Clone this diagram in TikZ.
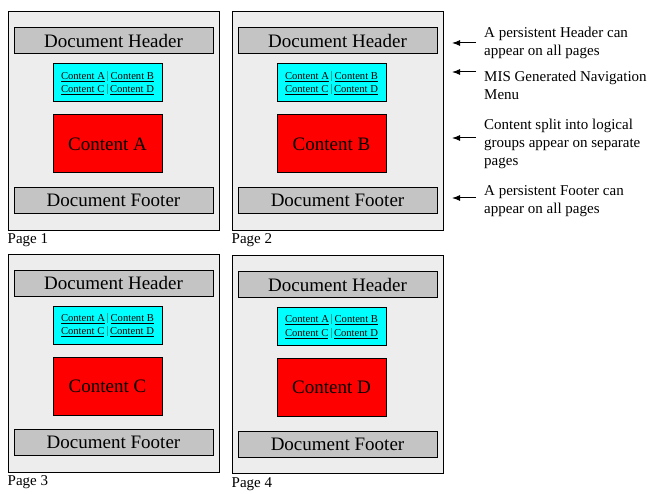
\documentclass[tikz,border=0pt]{standalone}
\usepackage{fontspec}
\setmainfont{Liberation Serif}
\usetikzlibrary{arrows.meta,calc}
\definecolor{pagebackground}{HTML}{EDEDED}
\definecolor{pageborder}{HTML}{000000}
\definecolor{bandfill}{HTML}{C4C4C4}
\definecolor{menufill}{HTML}{00FFFF}
\definecolor{menubar}{HTML}{1FA898}
\definecolor{contentfill}{HTML}{FF0000}
\definecolor{notetext}{HTML}{000000}
\definecolor{notearrow}{HTML}{000000}
\newcommand{\menulinks}{%
  \underline{Content A}\hspace{2.4pt}{\color{menubar}\rule[-1.5pt]{0.9pt}{10pt}}\hspace{2.4pt}\underline{Content B}\\
  \underline{Content C}\hspace{2.4pt}{\color{menubar}\rule[-1.5pt]{0.9pt}{10pt}}\hspace{2.4pt}\underline{Content D}}
\tikzset{
  site page/.style={
    rectangle, draw=pageborder, fill=pagebackground,
    line width=1pt, inner sep=0pt,
    minimum width=211pt, minimum height=218pt
  },
  site band/.style={
    rectangle, draw=pageborder, fill=bandfill,
    line width=1pt, inner sep=0pt,
    minimum width=199pt, minimum height=26pt,
    font=\fontsize{19}{22}\selectfont
  },
  site menu/.style={
    rectangle, draw=pageborder, fill=menufill,
    line width=1pt, inner sep=0pt,
    minimum width=109pt, minimum height=38pt,
    font=\fontsize{10.6}{13.5}\selectfont, align=center
  },
  site content/.style={
    rectangle, draw=pageborder, fill=contentfill,
    line width=1pt, inner sep=0pt,
    minimum width=109pt, minimum height=58pt,
    font=\fontsize{19}{22}\selectfont
  },
  site page label/.style={
    text=notetext, font=\fontsize{15}{18}\selectfont,
    anchor=north west, inner sep=0pt, yshift=-3pt
  },
  site note/.style={
    text=notetext, font=\fontsize{15}{18}\selectfont,
    anchor=north west, align=left, inner sep=0pt
  },
  site arrow/.style={
    draw=notearrow, line width=1pt,
    -{Latex[length=8pt,width=6pt]}, shorten <=8pt
  }
}
\begin{document}
\begin{tikzpicture}[x=1pt,y=-1pt]
  \useasboundingbox (0,0) rectangle (652,494);

  \node[site page] (page1) at (113.5,121) {};
  \node[site page] (page2) at (337.5,121) {};
  \node[site page] (page3) at (113.5,363) {};
  \node[site page] (page4) at (337.5,364.5) {};

  % Every page repeats the same header, menu and footer around its own content.
  \node[site band] (head1) at ($(page1)+(0,-80)$) {Document Header};
  \node[site menu] (menu1) at ($(page1)+(-6,-38)$) {\menulinks};
  \node[site content] (content1) at ($(page1)+(-6,23)$) {Content A};
  \node[site band] (foot1) at ($(page1)+(0,79.5)$) {Document Footer};

  \node[site band] (head2) at ($(page2)+(0,-80)$) {Document Header};
  \node[site menu] (menu2) at ($(page2)+(-6,-38)$) {\menulinks};
  \node[site content] (content2) at ($(page2)+(-6,23)$) {Content B};
  \node[site band] (foot2) at ($(page2)+(0,79.5)$) {Document Footer};

  \node[site band] (head3) at ($(page3)+(0,-80)$) {Document Header};
  \node[site menu] (menu3) at ($(page3)+(-6,-38)$) {\menulinks};
  \node[site content] (content3) at ($(page3)+(-6,23)$) {Content C};
  \node[site band] (foot3) at ($(page3)+(0,79.5)$) {Document Footer};

  \node[site band] (head4) at ($(page4)+(0,-80)$) {Document Header};
  \node[site menu] (menu4) at ($(page4)+(-6,-38)$) {\menulinks};
  \node[site content] (content4) at ($(page4)+(-6,23)$) {Content D};
  \node[site band] (foot4) at ($(page4)+(0,79.5)$) {Document Footer};

  \node[site page label] (label1) at (page1.south west) {Page 1};
  \node[site page label] (label2) at (page2.south west) {Page 2};
  \node[site page label] (label3) at (page3.south west) {Page 3};
  \node[site page label] (label4) at (page4.south west) {Page 4};

  % Notes on the right point back at page 2.
  \node[site note] (noteheader) at (484,27) {A persistent Header can\\appear on all pages};
  \node[site note] (notemenu) at (484,71) {MIS Generated Navigation\\Menu};
  \node[site note] (notecontent) at (484,119) {Content split into logical\\groups appear on separate\\pages};
  \node[site note] (notefooter) at (484,185) {A persistent Footer can\\appear on all pages};

  \coordinate (tipheader) at (452,43);
  \coordinate (tipmenu) at (452,72);
  \coordinate (tipcontent) at (452,138);
  \coordinate (tipfooter) at (452,198);

  \draw[site arrow] (noteheader.west |- tipheader) -- (tipheader);
  \draw[site arrow] (notemenu.west |- tipmenu) -- (tipmenu);
  \draw[site arrow] (notecontent.west |- tipcontent) -- (tipcontent);
  \draw[site arrow] (notefooter.west |- tipfooter) -- (tipfooter);
\end{tikzpicture}
\end{document}
